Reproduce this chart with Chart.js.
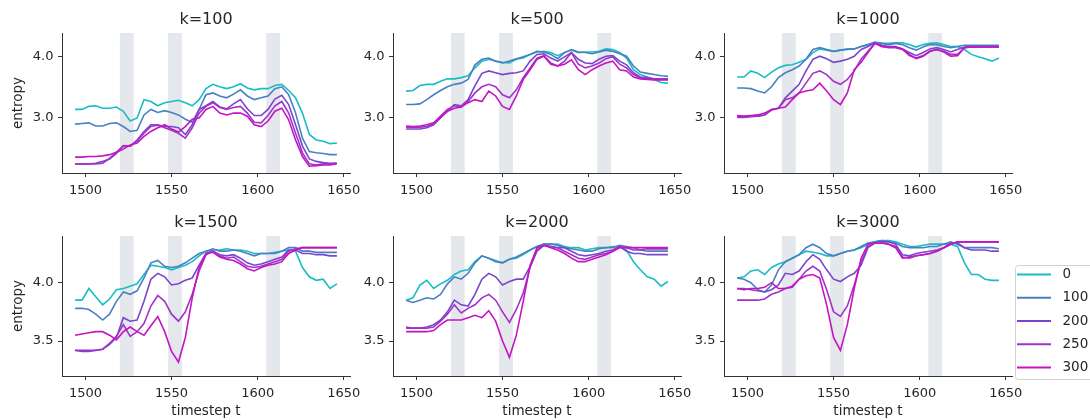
<!DOCTYPE html>
<html>
<head>
<meta charset="utf-8">
<script src="https://cdn.jsdelivr.net/npm/chart.js@4.4.1/dist/chart.umd.min.js"></script>
<style>
  html, body { margin: 0; padding: 0; background: #fff; width: 1090px; height: 420px; overflow: hidden; }
  canvas { position: absolute; }
</style>
</head>
<body>
<script>
// timesteps sampled every 4 steps
const steps = [1494, 1498, 1502, 1506, 1510, 1514, 1518, 1522, 1526, 1530,
               1534, 1538, 1542, 1546, 1550, 1554, 1558, 1562, 1566, 1570,
               1574, 1578, 1582, 1586, 1590, 1594, 1598, 1602, 1606, 1610,
               1614, 1618, 1622, 1626, 1630, 1634, 1638, 1642, 1646];
const seriesNames = ['0', '100', '200', '250', '300'];
const seriesColors = ['#17bec4', '#4a80c2', '#7b45cc', '#a232c8', '#c414c4'];
const panelTitles = ['k=100', 'k=500', 'k=1000', 'k=1500', 'k=2000', 'k=3000'];
const xTicks = [1500, 1550, 1600, 1650];
const yTicksTop = [3.0, 4.0];
const yTicksBottom = [3.5, 4.0];
const bands = [[1520, 1528], [1548, 1556], [1605, 1613]];

// entropy per series (0, 100, 200, 250, 300)
const k100 = [
  [3.14,3.14,3.19,3.20,3.16,3.16,3.18,3.11,2.95,3.00,3.30,3.27,3.20,3.25,3.27,3.29,3.25,3.20,3.30,3.48,3.55,3.51,3.48,3.51,3.56,3.49,3.46,3.48,3.48,3.53,3.55,3.45,3.33,3.08,2.73,2.64,2.62,2.58,2.59],
  [2.90,2.91,2.92,2.87,2.87,2.91,2.92,2.86,2.78,2.80,3.05,3.14,3.09,3.12,3.09,3.05,2.98,2.93,3.14,3.38,3.41,3.36,3.33,3.39,3.46,3.36,3.30,3.33,3.36,3.48,3.51,3.38,3.08,2.67,2.45,2.43,2.42,2.40,2.40],
  [2.25,2.25,2.25,2.26,2.29,2.33,2.42,2.54,2.54,2.64,2.78,2.89,2.89,2.86,2.86,2.84,2.73,2.89,3.14,3.20,3.27,3.18,3.15,3.23,3.30,3.15,3.04,3.04,3.14,3.31,3.37,3.22,2.89,2.54,2.33,2.29,2.27,2.26,2.26],
  [2.25,2.25,2.25,2.25,2.26,2.34,2.44,2.55,2.54,2.62,2.75,2.86,2.88,2.84,2.80,2.75,2.67,2.84,3.08,3.19,3.25,3.17,3.14,3.17,3.19,3.08,2.93,2.92,3.04,3.20,3.27,3.08,2.75,2.43,2.25,2.23,2.25,2.25,2.26],
  [2.36,2.36,2.37,2.37,2.38,2.40,2.44,2.49,2.56,2.59,2.70,2.78,2.84,2.89,2.82,2.77,2.86,2.98,3.00,3.14,3.19,3.08,3.05,3.08,3.08,3.03,2.89,2.86,2.95,3.11,3.16,2.97,2.64,2.37,2.21,2.22,2.23,2.23,2.25]
];
const k500 = [
  [3.44,3.45,3.53,3.55,3.55,3.60,3.64,3.64,3.66,3.69,3.82,3.93,3.96,3.93,3.91,3.90,3.96,3.98,4.04,4.08,4.09,4.07,4.02,4.07,4.11,4.07,4.08,4.08,4.09,4.13,4.12,4.07,3.98,3.79,3.71,3.67,3.63,3.58,3.57],
  [3.22,3.22,3.23,3.30,3.38,3.45,3.51,3.55,3.57,3.63,3.87,3.96,3.98,3.93,3.90,3.93,3.97,4.00,4.04,4.09,4.08,4.04,3.97,4.07,4.12,4.08,4.07,4.05,4.08,4.11,4.09,4.05,4.01,3.85,3.75,3.73,3.71,3.69,3.68],
  [2.82,2.82,2.82,2.84,2.89,3.00,3.11,3.22,3.20,3.30,3.53,3.73,3.77,3.74,3.71,3.73,3.74,3.77,3.93,4.04,4.05,3.98,3.93,4.00,4.07,3.96,3.90,3.89,3.96,4.01,4.02,3.93,3.87,3.74,3.67,3.66,3.64,3.64,3.64],
  [2.85,2.85,2.85,2.86,2.91,3.03,3.14,3.20,3.18,3.27,3.41,3.51,3.55,3.51,3.38,3.33,3.46,3.66,3.82,3.98,4.02,3.90,3.85,3.93,4.07,3.88,3.82,3.85,3.90,3.97,4.00,3.88,3.82,3.71,3.66,3.64,3.64,3.63,3.63],
  [2.87,2.86,2.87,2.89,2.92,3.02,3.11,3.16,3.18,3.25,3.30,3.27,3.44,3.36,3.19,3.14,3.36,3.63,3.79,3.96,4.01,3.88,3.85,3.88,3.95,3.79,3.71,3.79,3.85,3.90,3.93,3.79,3.77,3.67,3.64,3.63,3.62,3.62,3.62]
];
const k1000 = [
  [3.67,3.67,3.77,3.73,3.66,3.75,3.82,3.86,3.87,3.91,3.96,4.07,4.13,4.11,4.09,4.11,4.13,4.13,4.17,4.20,4.23,4.22,4.22,4.23,4.23,4.20,4.16,4.20,4.22,4.23,4.20,4.17,4.17,4.12,4.04,4.00,3.97,3.93,3.98],
  [3.49,3.49,3.48,3.44,3.41,3.51,3.66,3.74,3.79,3.85,3.96,4.12,4.15,4.12,4.09,4.11,4.12,4.13,4.17,4.20,4.24,4.22,4.20,4.22,4.20,4.15,4.11,4.16,4.20,4.20,4.17,4.15,4.17,4.19,4.19,4.19,4.19,4.19,4.19],
  [3.01,3.01,3.02,3.03,3.05,3.14,3.16,3.33,3.44,3.55,3.77,3.96,4.01,3.97,3.91,3.93,3.96,4.01,4.12,4.17,4.23,4.19,4.17,4.17,4.13,4.07,4.02,4.07,4.13,4.15,4.12,4.08,4.12,4.16,4.17,4.17,4.17,4.17,4.17],
  [3.02,3.02,3.03,3.03,3.05,3.13,3.16,3.30,3.33,3.41,3.57,3.73,3.77,3.71,3.60,3.55,3.63,3.77,3.96,4.09,4.22,4.17,4.15,4.15,4.12,4.02,3.98,4.02,4.09,4.12,4.09,4.04,4.04,4.15,4.16,4.16,4.16,4.16,4.16],
  [3.04,3.03,3.04,3.05,3.08,3.14,3.16,3.18,3.30,3.41,3.44,3.46,3.57,3.44,3.30,3.22,3.41,3.79,3.91,4.07,4.22,4.17,4.16,4.16,4.13,4.04,3.97,4.01,4.09,4.12,4.08,4.01,4.02,4.15,4.16,4.16,4.16,4.16,4.16]
];
const k1500 = [
  [3.85,3.85,3.95,3.88,3.81,3.86,3.94,3.95,3.97,3.99,4.07,4.15,4.14,4.13,4.11,4.13,4.15,4.18,4.23,4.27,4.28,4.28,4.29,4.28,4.28,4.27,4.25,4.25,4.25,4.26,4.27,4.28,4.27,4.13,4.05,4.02,4.03,3.95,3.99],
  [3.78,3.78,3.77,3.73,3.68,3.73,3.84,3.92,3.90,3.93,4.04,4.17,4.19,4.14,4.13,4.14,4.17,4.21,4.25,4.27,4.29,4.27,4.27,4.28,4.27,4.25,4.23,4.25,4.25,4.25,4.27,4.30,4.30,4.27,4.27,4.26,4.26,4.26,4.26],
  [3.42,3.42,3.42,3.42,3.43,3.47,3.53,3.70,3.67,3.68,3.84,4.03,4.08,4.05,3.98,3.99,4.02,4.04,4.15,4.25,4.27,4.24,4.23,4.24,4.21,4.17,4.15,4.16,4.18,4.20,4.22,4.28,4.28,4.25,4.25,4.24,4.24,4.23,4.23],
  [3.42,3.41,3.41,3.42,3.43,3.48,3.54,3.64,3.54,3.58,3.65,3.80,3.89,3.84,3.73,3.67,3.75,3.90,4.10,4.24,4.27,4.23,4.21,4.22,4.18,4.14,4.13,4.14,4.16,4.18,4.20,4.27,4.29,4.30,4.30,4.30,4.30,4.30,4.30],
  [3.55,3.56,3.57,3.58,3.58,3.55,3.51,3.58,3.62,3.58,3.55,3.63,3.71,3.58,3.41,3.32,3.53,3.87,4.13,4.25,4.26,4.22,4.20,4.19,4.16,4.12,4.10,4.13,4.15,4.16,4.18,4.25,4.28,4.30,4.30,4.30,4.30,4.30,4.30]
];
const k2000 = [
  [3.85,3.87,3.98,4.02,3.95,3.99,4.02,4.07,4.10,4.11,4.18,4.23,4.21,4.19,4.17,4.20,4.21,4.24,4.28,4.31,4.33,4.33,4.33,4.31,4.30,4.30,4.28,4.29,4.30,4.30,4.31,4.31,4.28,4.18,4.11,4.05,4.03,3.97,4.01],
  [3.85,3.83,3.85,3.87,3.86,3.90,3.99,4.05,4.03,4.08,4.17,4.23,4.21,4.18,4.17,4.20,4.22,4.25,4.28,4.31,4.33,4.33,4.32,4.30,4.29,4.28,4.27,4.27,4.29,4.30,4.30,4.32,4.31,4.30,4.28,4.27,4.27,4.27,4.27],
  [3.61,3.61,3.61,3.62,3.64,3.68,3.75,3.85,3.81,3.80,3.90,4.03,4.08,4.05,3.98,4.01,4.03,4.03,4.14,4.27,4.32,4.31,4.30,4.30,4.27,4.24,4.23,4.24,4.25,4.27,4.28,4.31,4.27,4.25,4.25,4.24,4.24,4.24,4.24],
  [3.62,3.61,3.61,3.61,3.62,3.67,3.73,3.81,3.74,3.78,3.81,3.87,3.90,3.85,3.75,3.66,3.77,3.91,4.13,4.28,4.32,4.31,4.30,4.27,4.24,4.21,4.20,4.22,4.24,4.25,4.27,4.31,4.30,4.28,4.28,4.29,4.29,4.29,4.29],
  [3.58,3.58,3.58,3.58,3.59,3.64,3.68,3.68,3.68,3.70,3.72,3.70,3.76,3.67,3.50,3.36,3.55,3.84,4.15,4.30,4.32,4.30,4.28,4.25,4.21,4.18,4.18,4.20,4.22,4.24,4.27,4.30,4.30,4.30,4.30,4.30,4.30,4.30,4.30]
];
const k3000 = [
  [4.04,4.05,4.10,4.11,4.07,4.13,4.16,4.18,4.21,4.24,4.27,4.26,4.25,4.23,4.23,4.25,4.27,4.28,4.30,4.33,4.35,4.36,4.36,4.35,4.33,4.31,4.31,4.32,4.33,4.33,4.33,4.33,4.31,4.17,4.07,4.07,4.03,4.02,4.02],
  [4.04,4.03,4.00,3.94,3.92,3.98,4.11,4.18,4.21,4.24,4.30,4.33,4.30,4.25,4.23,4.25,4.27,4.28,4.31,4.34,4.35,4.36,4.35,4.34,4.31,4.30,4.30,4.30,4.31,4.31,4.33,4.35,4.33,4.30,4.30,4.30,4.30,4.30,4.29],
  [3.95,3.95,3.94,3.93,3.92,3.94,3.98,4.08,4.07,4.10,4.18,4.24,4.20,4.11,4.03,4.01,4.05,4.08,4.15,4.30,4.34,4.35,4.35,4.33,4.24,4.23,4.25,4.26,4.27,4.28,4.30,4.34,4.34,4.30,4.28,4.28,4.28,4.27,4.27],
  [3.85,3.85,3.85,3.85,3.86,3.90,3.92,3.95,3.96,4.03,4.10,4.14,4.10,3.94,3.75,3.71,3.80,3.98,4.18,4.31,4.34,4.34,4.33,4.31,4.22,4.21,4.23,4.24,4.25,4.27,4.30,4.33,4.35,4.35,4.35,4.35,4.35,4.35,4.35],
  [3.95,3.94,3.95,3.95,3.96,4.00,3.95,3.95,3.97,4.03,4.06,4.07,4.04,3.81,3.53,3.42,3.64,3.95,4.21,4.33,4.34,4.34,4.33,4.30,4.21,4.22,4.23,4.24,4.25,4.27,4.30,4.33,4.35,4.35,4.35,4.35,4.35,4.35,4.35]
];
const panelData = [k100, k500, k1000, k1500, k2000, k3000];

const textColor = '#262626';
const axisColor = '#333333';
const bandColor = '#e4e7ec';
Chart.defaults.font.family = '"DejaVu Sans", sans-serif';
Chart.defaults.color = textColor;

// grey bands behind the lines
const bandPlugin = {
  id: 'bands',
  beforeDatasetsDraw(chart) {
    const {ctx, chartArea: a, scales: {x}} = chart;
    ctx.save();
    ctx.fillStyle = bandColor;
    bands.forEach(b => {
      const x0 = x.getPixelForValue(b[0]);
      const x1 = x.getPixelForValue(b[1]);
      ctx.fillRect(x0, a.top, x1 - x0, a.bottom - a.top);
    });
    ctx.restore();
  }
};

// matplotlib-like legend box, only on the last panel
const legendPlugin = {
  id: 'sideLegend',
  afterDraw(chart) {
    if (!chart.options.plugins.sideLegend) return;
    const ctx = chart.ctx;
    const left = 353.5, top = 62, h = 114, w = 120;
    ctx.save();
    ctx.fillStyle = 'rgba(255,255,255,0.8)';
    ctx.strokeStyle = '#d0d0d0';
    ctx.lineWidth = 1;
    ctx.beginPath();
    ctx.roundRect(left, top + 0.5, w, h, 3);
    ctx.fill();
    ctx.stroke();
    ctx.font = '13.5px "DejaVu Sans"';
    ctx.textBaseline = 'middle';
    ctx.textAlign = 'left';
    chart.data.datasets.forEach((ds, i) => {
      const y = top + 9.5 + i * 23.25;
      ctx.strokeStyle = ds.borderColor;
      ctx.lineWidth = 2;
      ctx.beginPath();
      ctx.moveTo(355, y);
      ctx.lineTo(389, y);
      ctx.stroke();
      ctx.fillStyle = textColor;
      ctx.fillText(ds.label, 400.5, y);
    });
    ctx.restore();
  }
};

const areaLefts = [62, 393, 724];
const areaTops = [33, 236];

panelTitles.forEach((title, p) => {
  const col = p % 3, row = Math.floor(p / 3);
  const lastPanel = p === 5;
  const rp = lastPanel ? 78 : 20;
  const xh = row === 0 ? 30 : 44;
  const canvas = document.createElement('canvas');
  canvas.width = 62 + 288 + rp;
  canvas.height = 33 + 140 + xh;
  canvas.style.left = (areaLefts[col] - 62) + 'px';
  canvas.style.top = (areaTops[row] - 33) + 'px';
  document.body.appendChild(canvas);

  const datasets = seriesNames.map((name, i) => ({
    label: name,
    data: steps.map((t, j) => ({x: t, y: panelData[p][i][j]})),
    borderColor: seriesColors[i],
    borderWidth: 1.6,
    pointRadius: 0,
    tension: 0,
    order: seriesNames.length - i
  }));

  const yTicks = row === 0 ? yTicksTop : yTicksBottom;

  new Chart(canvas, {
    type: 'line',
    data: {datasets},
    options: {
      responsive: false,
      animation: false,
      events: [],
      layout: {padding: {left: 0, right: rp, top: 0, bottom: 0}},
      plugins: {
        legend: {display: false},
        tooltip: {enabled: false},
        title: {
          display: true,
          text: title,
          fullSize: false,
          color: textColor,
          font: {size: 16, weight: 'normal'},
          padding: {top: 10.6, bottom: 3.2}
        },
        sideLegend: lastPanel
      },
      scales: {
        x: {
          type: 'linear',
          min: 1486.4,
          max: 1653.6,
          afterFit: s => { s.height = xh; },
          afterBuildTicks: s => { s.ticks = xTicks.map(v => ({value: v})); },
          ticks: {font: {size: 13}, color: textColor, padding: 5.5, callback: v => String(v)},
          grid: {display: true, drawOnChartArea: false, drawTicks: true, tickLength: 4, color: axisColor},
          border: {display: true, color: axisColor, width: 1},
          title: {display: row === 1, text: 'timestep t', color: textColor, font: {size: 13.5}, padding: {top: 0, bottom: 0}}
        },
        y: {
          type: 'linear',
          min: row === 0 ? 2.10 : 3.20,
          max: row === 0 ? 4.39 : 4.40,
          afterFit: s => { s.width = 62; },
          afterBuildTicks: s => { s.ticks = yTicks.map(v => ({value: v})); },
          ticks: {font: {size: 13}, color: textColor, padding: 4.5, callback: v => v.toFixed(1)},
          grid: {display: true, drawOnChartArea: false, drawTicks: true, tickLength: 4, color: axisColor},
          border: {display: true, color: axisColor, width: 1},
          title: {display: col === 0, text: 'entropy', color: textColor, font: {size: 13.5}, padding: {top: 10, bottom: 0}}
        }
      }
    },
    plugins: [bandPlugin, legendPlugin]
  });
});
</script>
</body>
</html>
